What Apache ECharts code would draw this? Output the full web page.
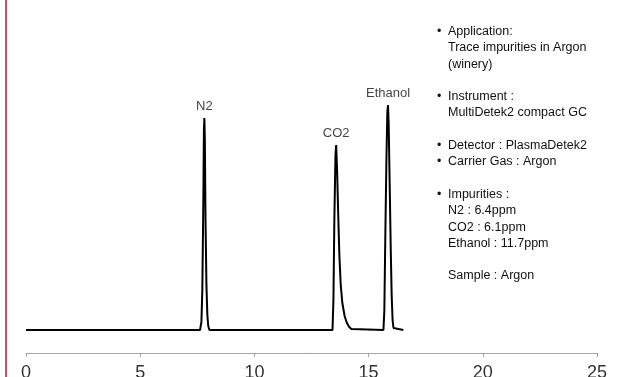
<!DOCTYPE html>
<html>
<head>
<meta charset="utf-8">
<script src="https://cdn.jsdelivr.net/npm/echarts@6/dist/echarts.min.js"></script>
<style>
html,body{margin:0;padding:0;background:#fff;}
#chart{width:628px;height:377px;}
</style>
</head>
<body>
<div id="chart"></div>
<script>
// Retention time (min) and detector signal (arbitrary units)
var retentionTime = [
  0, 7.62, 7.68, 7.72, 7.76, 7.79, 7.81, 7.83, 7.86, 7.90, 7.94, 7.98, 8.03,
  13.42, 13.46, 13.50, 13.55, 13.58, 13.62, 13.67, 13.72, 13.78, 13.85, 13.95, 14.05, 14.15, 14.25, 14.33,
  15.65, 15.69, 15.73, 15.78, 15.82, 15.85, 15.88, 15.92, 15.97, 16.01, 16.05, 16.09, 16.13, 16.52
];
var signal = [
  0, 0, 8, 40, 120, 200, 212, 190, 110, 45, 15, 4, 0,
  0, 30, 110, 175, 185, 160, 115, 75, 45, 27, 14, 7, 3, 1, 0,
  0, 20, 90, 170, 218, 225, 205, 150, 80, 35, 10, 2, 0, 0
];
var peakNames = ['N2', 'CO2', 'Ethanol'];
var peakTimes = [7.81, 13.58, 15.85];
var peakHeights = [212, 185, 225];
var xTicks = [0, 5, 10, 15, 20, 25];
var infoLines = [
  {bullet: true,  text: 'Application:'},
  {bullet: false, text: 'Trace impurities in Argon'},
  {bullet: false, text: '(winery)'},
  null,
  {bullet: true,  text: 'Instrument :'},
  {bullet: false, text: 'MultiDetek2 compact GC'},
  null,
  {bullet: true,  text: 'Detector : PlasmaDetek2'},
  {bullet: true,  text: 'Carrier Gas : Argon'},
  null,
  {bullet: true,  text: 'Impurities :'},
  {bullet: false, text: 'N2 : 6.4ppm'},
  {bullet: false, text: 'CO2 : 6.1ppm'},
  {bullet: false, text: 'Ethanol : 11.7ppm'},
  null,
  {bullet: false, text: 'Sample : Argon'}
];

var FONT = '"Liberation Sans", Arial, sans-serif';

var lineData = retentionTime.map(function (t, i) { return [t, signal[i]]; });
var labelData = peakTimes.map(function (t, i) { return {name: peakNames[i], value: [t, peakHeights[i]]}; });

var graphics = [{
  type: 'line', shape: {x1: 6, y1: 0, x2: 6, y2: 377},
  style: {stroke: '#c8506a', lineWidth: 2}, silent: true
}];
var lineY0 = 33, lineStep = 16.3;
infoLines.forEach(function (ln, i) {
  if (!ln) return;
  var y = lineY0 + i * lineStep;
  if (ln.bullet) {
    graphics.push({type: 'text', left: 437, top: y - 8,
      style: {text: '\u2022', fill: '#111', font: '12.5px ' + FONT}});
  }
  graphics.push({type: 'text', left: 448, top: y - 8,
    style: {text: ln.text, fill: '#111', font: '12.5px ' + FONT}});
});

var chart = echarts.init(document.getElementById('chart'));
chart.setOption({
  animation: false,
  backgroundColor: '#fff',
  grid: {left: 26, right: 31, top: 0, bottom: 24, containLabel: false, outerBoundsMode: 'none'},
  xAxis: {
    type: 'value', min: xTicks[0], max: xTicks[xTicks.length - 1], interval: 5,
    axisLine: {show: true, onZero: false, lineStyle: {color: '#a6a6a6', width: 1}},
    axisTick: {show: true, length: 4, lineStyle: {color: '#a6a6a6'}},
    axisLabel: {fontSize: 18, color: '#333', margin: 11, fontFamily: FONT},
    splitLine: {show: false}
  },
  yAxis: {type: 'value', min: -23, max: 330, show: false, splitLine: {show: false}},
  series: [{
    type: 'line', data: lineData, showSymbol: false, symbol: 'none',
    lineStyle: {color: '#000', width: 2}, z: 3
  }, {
    type: 'scatter', data: labelData, symbolSize: 0, silent: true,
    label: {show: true, position: 'top', distance: 5, formatter: '{b}',
      color: '#111', fontSize: 13, fontFamily: FONT}
  }],
  graphic: graphics
});
</script>
</body>
</html>
